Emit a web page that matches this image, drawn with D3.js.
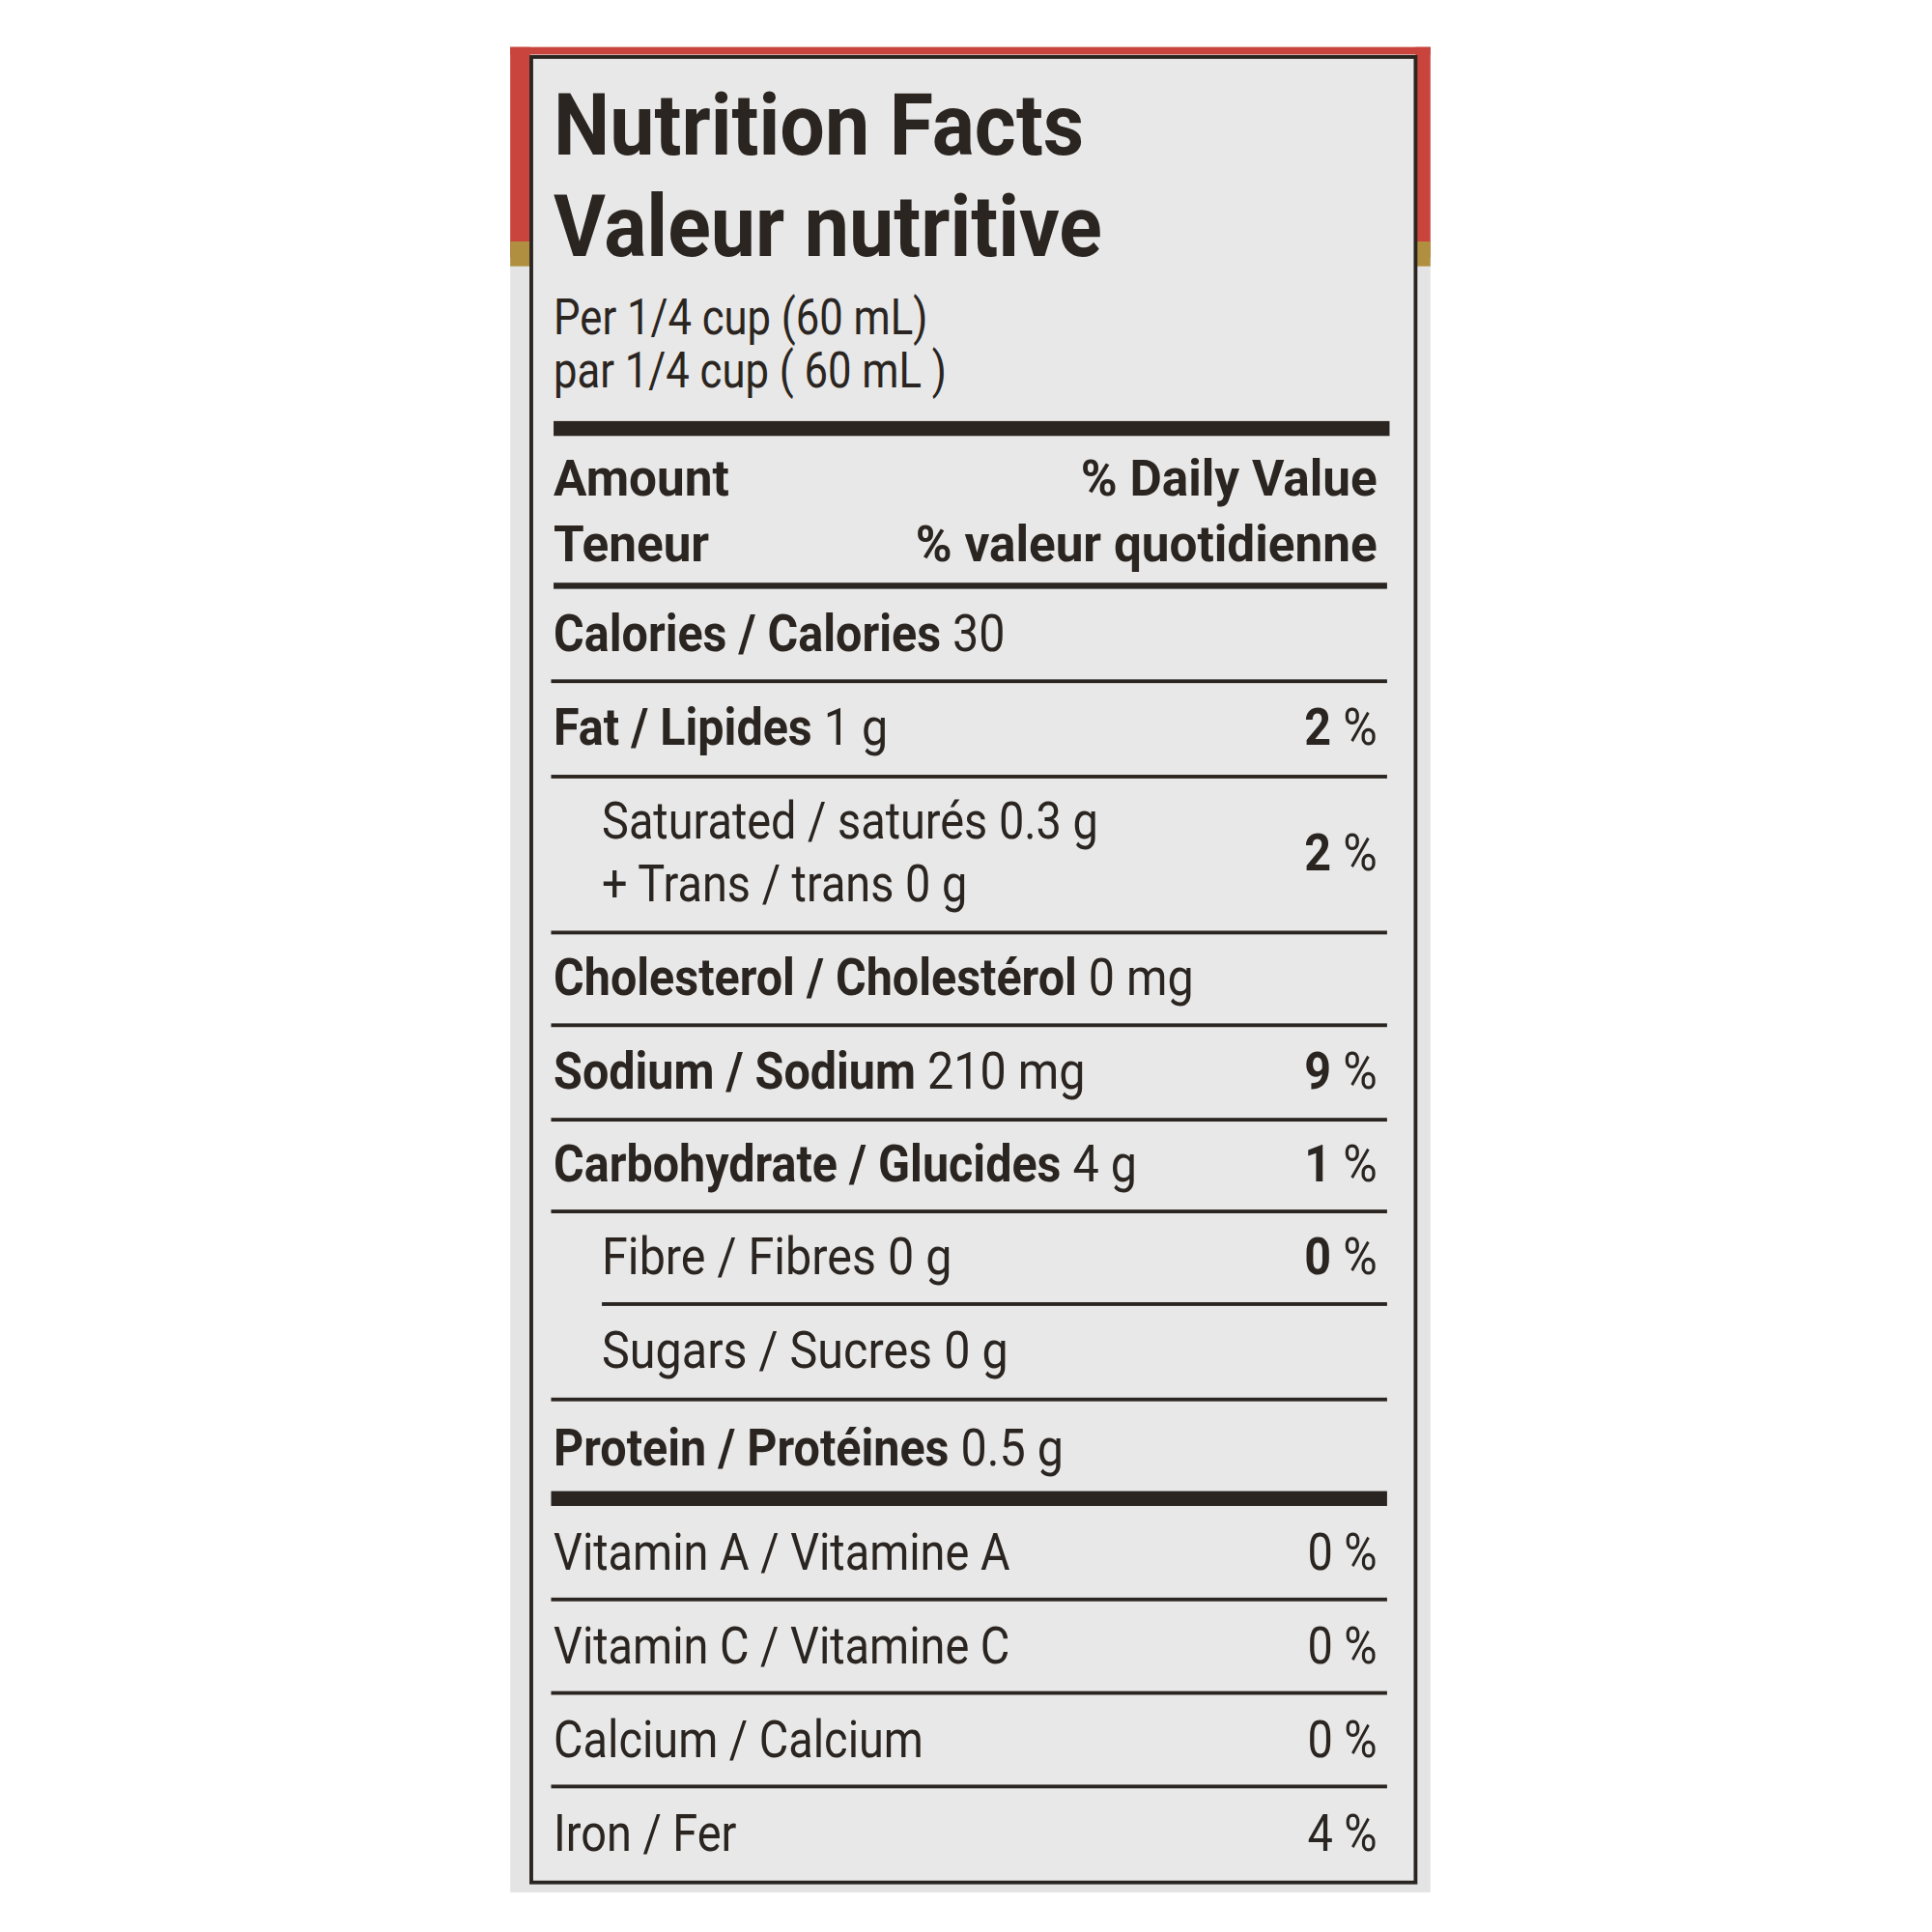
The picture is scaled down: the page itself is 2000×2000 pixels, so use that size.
<!DOCTYPE html><html><head><meta charset="utf-8">
<script src="https://cdn.jsdelivr.net/npm/d3@7"></script>
<style>body{margin:0;background:#fff}</style></head><body>
<script>
const titles=["Nutrition Facts","Valeur nutritive"];
const serving=["Per 1/4 cup (60 mL)","par 1/4 cup ( 60 mL )"];
const headerLeft=["Amount","Teneur"];
const headerRight=["% Daily Value","% valeur quotidienne"];
const nutrients=[
 {bold:"Calories / Calories",val:"30",dv:null,indent:false,h:1},
 {bold:"Fat / Lipides",val:"1 g",dv:"2",indent:false,h:1.04},
 {bold:"",val:"Saturated / saturés 0.3 g",val2:"+ Trans / trans 0 g",dv:"2",indent:true,h:1.7},
 {bold:"Cholesterol / Cholestérol",val:"0 mg",dv:null,indent:false,h:1.01},
 {bold:"Sodium / Sodium",val:"210 mg",dv:"9",indent:false,h:1.03},
 {bold:"Carbohydrate / Glucides",val:"4 g",dv:"1",indent:false,h:1},
 {bold:"",val:"Fibre / Fibres 0 g",dv:"0",indent:true,h:1.01},
 {bold:"",val:"Sugars / Sucres 0 g",dv:null,indent:true,h:1.04},
 {bold:"Protein / Protéines",val:"0.5 g",dv:null,indent:false,h:1.08}];
const vitamins=[["Vitamin A / Vitamine A","0"],["Vitamin C / Vitamine C","0"],["Calcium / Calcium","0"],["Iron / Fer","4"]];

const s=2000/1560;
const svg=d3.select("body").append("svg").attr("width",2000).attr("height",2000);
const g=svg.append("g").attr("transform",`scale(${s})`);
const ink="#2b2521", F="Roboto, 'Liberation Sans', sans-serif";
g.append("rect").attr("x",412).attr("y",38).attr("width",743).attr("height",1490).attr("fill","#e4e4e4");
g.append("rect").attr("x",412).attr("y",38).attr("width",16).attr("height",170).attr("fill","#c8443c");
g.append("rect").attr("x",412).attr("y",38).attr("width",743).attr("height",6).attr("fill","#c8443c");
g.append("rect").attr("x",1143).attr("y",38).attr("width",12).attr("height",170).attr("fill","#c8443c");
g.append("rect").attr("x",412).attr("y",195).attr("width",16).attr("height",20).attr("fill","#b09040");
g.append("rect").attr("x",1143).attr("y",195).attr("width",12).attr("height",20).attr("fill","#b09040");
g.append("rect").attr("x",429).attr("y",46).attr("width",714).attr("height",1474).attr("fill","#e8e8e8").attr("stroke",ink).attr("stroke-width",3);

function txt(x,y,str,size,weight,anchor,sx){
  return g.append("text").attr("transform",`translate(${x},${y}) scale(${sx||0.87},1)`)
   .attr("font-family",F).attr("font-size",size).attr("font-weight",weight||"normal")
   .attr("text-anchor",anchor||"start").attr("fill",ink).text(str);
}
function rule(x1,x2,y,w){g.append("rect").attr("x",x1).attr("y",y-w/2).attr("width",x2-x1).attr("height",w).attr("fill",ink);}
const L=447,R=1112;
titles.forEach((t,i)=>txt(L,125+i*82,t,70,"bold","start",0.92));
serving.forEach((t,i)=>txt(L,270+i*43,t,40,"normal","start",0.85));
rule(447,1122,346,12);
headerLeft.forEach((t,i)=>txt(L,400+i*53,t,40,"bold","start",1.0));
headerRight.forEach((t,i)=>txt(R,400+i*53,t,40,"bold","end",1.0));
rule(447,1120,473,5);
const cum=d3.cumsum([0,...nutrients.map(d=>d.h)]);
const y=d3.scaleLinear().domain([0,cum[cum.length-1]]).range([476,1210]);
nutrients.forEach((d,i)=>{
  const y0=y(cum[i]),y1=y(cum[i+1]),x=d.indent?486:L;
  if(d.val2){
    txt(x,y0+50,d.val,42); txt(x,y0+101,d.val2,42);
  } else {
    const t=txt(x,(y0+y1)/2+13,"",42,"normal","start",0.9);
    if(d.bold){t.append("tspan").attr("font-weight","bold").text(d.bold+" ");}
    t.append("tspan").text(d.val);
  }
  if(d.dv!=null){
    const t=txt(R,(y0+y1)/2+13,"",42,"normal","end",0.9);
    t.append("tspan").attr("font-weight","bold").text(d.dv);
    t.append("tspan").text(" %");
  }
  if(i<nutrients.length-1) rule(i==6?486:445,1120,y1,3);
});
rule(445,1120,1210,12);
const yv=d3.scaleLinear().domain([0,4]).range([1216,1518]);
vitamins.forEach((d,i)=>{
  const c=(yv(i)+yv(i+1))/2+14;
  txt(L,c,d[0],42); txt(R,c,d[1]+" %",42,"normal","end");
  if(i<vitamins.length-1) rule(445,1120,yv(i+1),3);
});
</script></body></html>
